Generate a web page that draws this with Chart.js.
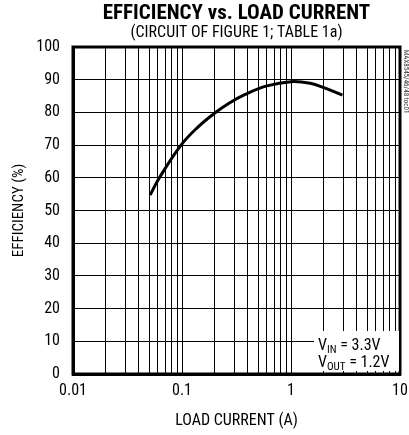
<!DOCTYPE html>
<html>
<head>
<meta charset="utf-8">
<script src="https://cdn.jsdelivr.net/npm/chart.js@4"></script>
<style>
html, body { margin: 0; padding: 0; background: #fff; }
#wrap { width: 409px; height: 435px; }
</style>
</head>
<body>
<div id="wrap"><canvas id="grafica"></canvas></div>
<script>
// load current (A) and efficiency (%)
var corriente = [0.051, 0.062, 0.098, 0.14, 0.2, 0.27, 0.38, 0.6, 1.0, 1.5, 2.03, 2.96];
var eficiencia = [54.7, 60, 70, 75.5, 79.8, 82.8, 85.5, 88.1, 89.4, 88.9, 87.5, 85.3];

var decadas = [0.01, 0.1, 1, 10];
var etiquetasX = ['0.01', '0.1', '1', '10'];
var ticksY = [0, 10, 20, 30, 40, 50, 60, 70, 80, 90, 100];

var titulo = 'EFFICIENCY vs. LOAD CURRENT';
var subtitulo = '(CIRCUIT OF FIGURE 1; TABLE 1a)';
var marca = 'MAX8545/46/48 toc01';

var fuente = '"Roboto Condensed", "Liberation Sans Narrow", sans-serif';

// minor ticks 1..9 of each decade
var ticksX = [];
for (var d = 0; d < decadas.length - 1; d++) {
	for (var k = 1; k < 10; k++) ticksX.push(+(decadas[d] * k).toPrecision(3));
}
ticksX.push(decadas[decadas.length - 1]);

var puntos = corriente.map(function(x, i) { return {x: x, y: eficiencia[i]}; });

var marco = {
	id: 'marco',
	afterDatasetsDraw: function(chart) {
		var c = chart.ctx, a = chart.chartArea;
		c.save();
		c.lineWidth = 3;
		c.strokeStyle = '#000';
		c.strokeRect(a.left, a.top, a.right - a.left, a.bottom - a.top);

		// titles centred on the plot area
		var cx = (a.left + a.right) / 2;
		c.fillStyle = '#000';
		c.textAlign = 'center';
		c.textBaseline = 'alphabetic';
		c.font = 'bold 21px ' + fuente;
		c.fillText(titulo, cx, 19);
		c.font = '16px ' + fuente;
		c.fillText(subtitulo, cx, 37);

		// side mark
		c.save();
		c.translate(a.right + 4, a.top + 3);
		c.rotate(Math.PI / 2);
		c.font = '7px ' + fuente;
		c.fillStyle = '#333';
		c.textAlign = 'left';
		c.fillText(marca, 0, 0);
		c.restore();

		// legend box
		c.fillStyle = '#fff';
		c.fillRect(a.right - 86, a.bottom - 43, 85, 40);
		c.fillStyle = '#000';
		c.textAlign = 'left';
		function linea(x, y, base, sub, resto) {
			c.font = '16px ' + fuente;
			c.fillText(base, x, y);
			x += c.measureText(base).width;
			c.font = '11px ' + fuente;
			c.fillText(sub, x, y + 3);
			x += c.measureText(sub).width;
			c.font = '16px ' + fuente;
			c.fillText(resto, x, y);
		}
		linea(a.right - 82, a.bottom - 24, 'V', 'IN', ' = 3.3V');
		linea(a.right - 82, a.bottom - 7, 'V', 'OUT', ' = 1.2V');
		c.restore();
	}
};

var ctx = document.getElementById('grafica').getContext('2d');
var chart = new Chart(ctx, {
	type: 'line',
	data: {
		datasets: [{
			data: puntos,
			borderColor: '#000',
			borderWidth: 3,
			pointRadius: 0,
			fill: false,
			tension: 0.4
		}]
	},
	options: {
		responsive: true,
		maintainAspectRatio: false,
		animation: false,
		layout: { padding: { top: 47, right: 9, left: 0, bottom: 0 } },
		plugins: { legend: { display: false }, tooltip: { enabled: false } },
		scales: {
			x: {
				type: 'logarithmic',
				min: 0.01,
				max: 10,
				afterBuildTicks: function(s) {
					s.ticks = ticksX.map(function(v) { return {value: v}; });
				},
				afterFit: function(s) { s.height = 61; s.paddingRight = 0; s.paddingLeft = 0; },
				grid: { color: '#000', lineWidth: 1, drawTicks: false },
				border: { color: '#000', width: 3 },
				ticks: {
					autoSkip: false,
					maxRotation: 0,
					padding: 7,
					color: '#000',
					font: { family: fuente, size: 16 },
					callback: function(v) {
						var i = decadas.indexOf(v);
						return i >= 0 ? etiquetasX[i] : '';
					}
				},
				title: {
					display: true,
					text: 'LOAD CURRENT (A)',
					color: '#000',
					font: { family: fuente, size: 16 },
					padding: { top: 4 }
				}
			},
			y: {
				min: 0,
				max: 100,
				afterBuildTicks: function(s) {
					s.ticks = ticksY.map(function(v) { return {value: v}; });
				},
				afterFit: function(s) { s.width = 73; },
				grid: { color: '#000', lineWidth: 1, drawTicks: false },
				border: { color: '#000', width: 3 },
				ticks: {
					padding: 13,
					color: '#000',
					font: { family: fuente, size: 16 }
				},
				title: {
					display: true,
					text: 'EFFICIENCY (%)',
					color: '#000',
					font: { family: fuente, size: 15 },
					padding: { top: 10, bottom: 0 }
				}
			}
		}
	},
	plugins: [marco]
});
</script>
</body>
</html>
